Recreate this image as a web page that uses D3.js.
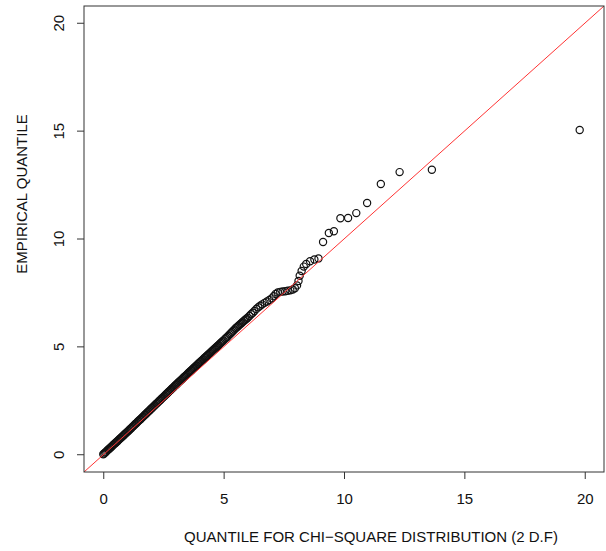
<!DOCTYPE html>
<html>
<head>
<meta charset="utf-8">
<script src="https://cdn.jsdelivr.net/npm/d3@7"></script>
<style>
  body { margin: 0; background: #fff; }
  svg { display: block; font-family: "Liberation Sans", Arial, sans-serif; }
</style>
</head>
<body>
<svg id="qq" width="606" height="551"></svg>
<script>
// theoretical chi-square (2 df) quantiles
const theoretical = [
  0.00, 0.04, 0.08, 0.12, 0.16, 0.20, 0.24, 0.28, 0.32, 0.36, 0.40, 0.44, 0.48, 0.52, 0.56, 0.60, 0.64, 0.68, 0.72, 0.76, 0.80, 0.84, 0.88, 0.92, 0.96,
  1.00, 1.04, 1.08, 1.12, 1.16, 1.20, 1.24, 1.28, 1.32, 1.36, 1.40, 1.44, 1.48, 1.52, 1.56, 1.60, 1.64, 1.68, 1.72, 1.76, 1.80, 1.84, 1.88, 1.92, 1.96,
  2.00, 2.04, 2.08, 2.12, 2.16, 2.20, 2.24, 2.28, 2.32, 2.36, 2.40, 2.44, 2.48, 2.52, 2.56, 2.60, 2.64, 2.68, 2.72, 2.76, 2.80, 2.84, 2.88, 2.92, 2.96,
  3.00, 3.04, 3.08, 3.12, 3.16, 3.20, 3.24, 3.28, 3.32, 3.36, 3.40, 3.44, 3.48, 3.52, 3.56, 3.60, 3.64, 3.68, 3.72, 3.76, 3.80, 3.84, 3.88, 3.92, 3.96,
  4.00, 4.04, 4.08, 4.12, 4.16, 4.20, 4.24, 4.28, 4.32, 4.36, 4.40, 4.44, 4.48, 4.52, 4.56, 4.60, 4.64, 4.68, 4.72, 4.76, 4.80, 4.84, 4.88, 4.92, 4.96,
  5.00, 5.05, 5.10, 5.15, 5.20, 5.25, 5.30, 5.35, 5.40, 5.45, 5.50, 5.55, 5.60, 5.65, 5.70, 5.75, 5.80, 5.85, 5.90, 5.95,
  6.00, 6.07, 6.14, 6.21, 6.28, 6.36, 6.44, 6.52, 6.60, 6.70, 6.80, 6.90, 7.00, 7.08, 7.16, 7.25, 7.35, 7.45, 7.56, 7.66,
  7.77, 7.87, 7.96, 8.05, 8.11, 8.16, 8.24, 8.33, 8.43, 8.59, 8.77, 8.94, 9.13, 9.37, 9.58, 9.85, 10.17, 10.51, 10.96, 11.53,
  12.31, 13.65, 19.79
];

// empirical quantiles
const empirical = [
  0.02, 0.06, 0.10, 0.14, 0.19, 0.23, 0.27, 0.31, 0.35, 0.39, 0.44, 0.48, 0.52, 0.56, 0.60, 0.64, 0.69, 0.73, 0.77, 0.81, 0.85, 0.89, 0.94, 0.98, 1.02,
  1.06, 1.10, 1.15, 1.19, 1.23, 1.28, 1.32, 1.36, 1.41, 1.45, 1.49, 1.54, 1.58, 1.62, 1.66, 1.71, 1.75, 1.79, 1.84, 1.88, 1.92, 1.97, 2.01, 2.05, 2.10,
  2.14, 2.18, 2.23, 2.27, 2.31, 2.36, 2.40, 2.44, 2.49, 2.53, 2.57, 2.62, 2.66, 2.70, 2.74, 2.79, 2.83, 2.87, 2.92, 2.96, 3.00, 3.05, 3.09, 3.13, 3.18,
  3.22, 3.26, 3.30, 3.35, 3.39, 3.43, 3.47, 3.51, 3.56, 3.60, 3.64, 3.68, 3.72, 3.77, 3.81, 3.85, 3.89, 3.93, 3.98, 4.02, 4.06, 4.10, 4.14, 4.19, 4.23,
  4.27, 4.31, 4.35, 4.39, 4.43, 4.48, 4.52, 4.56, 4.60, 4.64, 4.68, 4.72, 4.76, 4.81, 4.85, 4.89, 4.93, 4.97, 5.01, 5.05, 5.09, 5.14, 5.18, 5.22, 5.26,
  5.30, 5.36, 5.41, 5.46, 5.52, 5.58, 5.63, 5.69, 5.75, 5.80, 5.86, 5.91, 5.96, 6.01, 6.06, 6.11, 6.16, 6.21, 6.26, 6.30,
  6.35, 6.43, 6.51, 6.58, 6.66, 6.76, 6.84, 6.91, 6.97, 7.04, 7.10, 7.17, 7.25, 7.35, 7.45, 7.52, 7.55, 7.57, 7.58, 7.60,
  7.62, 7.66, 7.72, 7.85, 8.05, 8.30, 8.52, 8.72, 8.84, 8.97, 9.05, 9.10, 9.86, 10.28, 10.36, 10.96, 10.97, 11.20, 11.67, 12.55,
  13.10, 13.21, 15.05
];

const xTicks = [0, 5, 10, 15, 20];
const yTicks = [0, 5, 10, 15, 20];
const xLabel = "QUANTILE FOR CHI\u2212SQUARE DISTRIBUTION (2 D.F)";
const yLabel = "EMPIRICAL QUANTILE";

const svg = d3.select("#qq");
const plotL = 84, plotR = 604, plotT = 6, plotB = 472;
const fontPx = 15;

const x = d3.scaleLinear().domain([-0.8, 20.8]).range([plotL, plotR]);
const y = d3.scaleLinear().domain([-0.8, 20.8]).range([plotB, plotT]);

svg.append("defs").append("clipPath").attr("id", "plot-clip")
  .append("rect")
  .attr("x", plotL).attr("y", plotT)
  .attr("width", plotR - plotL).attr("height", plotB - plotT);

// points
const pts = theoretical.map((t, i) => ({ t, e: empirical[i] }));

svg.append("g")
  .attr("clip-path", "url(#plot-clip)")
  .selectAll("circle")
  .data(pts)
  .join("circle")
  .attr("cx", d => x(d.t))
  .attr("cy", d => y(d.e))
  .attr("r", 3.6)
  .attr("fill", "none")
  .attr("stroke", "#111")
  .attr("stroke-width", 1.2);

// reference line y = x
svg.append("line")
  .attr("clip-path", "url(#plot-clip)")
  .attr("x1", x(-0.8)).attr("y1", y(-0.8))
  .attr("x2", x(20.8)).attr("y2", y(20.8))
  .attr("stroke", "#ff3333")
  .attr("stroke-width", 1);

// box
svg.append("rect")
  .attr("x", plotL).attr("y", plotT)
  .attr("width", plotR - plotL).attr("height", plotB - plotT)
  .attr("fill", "none")
  .attr("stroke", "#333")
  .attr("stroke-width", 1);

// axes
const xAxis = d3.axisBottom(x).tickValues(xTicks).tickSize(7).tickPadding(14).tickFormat(d3.format("d"));
const gx = svg.append("g").attr("transform", `translate(0,${plotB})`).call(xAxis);
gx.select(".domain").remove();

const yAxis = d3.axisLeft(y).tickValues(yTicks).tickSize(7).tickFormat(d3.format("d"));
const gy = svg.append("g").attr("transform", `translate(${plotL},0)`).call(yAxis);
gy.select(".domain").remove();
gy.selectAll(".tick").attr("transform", null);
gy.selectAll(".tick line").attr("y1", d => y(d)).attr("y2", d => y(d));
gy.selectAll(".tick text")
  .attr("x", null).attr("dy", null).attr("y", null)
  .attr("transform", d => `translate(-20,${y(d)}) rotate(-90)`)
  .attr("text-anchor", "middle");

svg.selectAll(".tick line").attr("stroke", "#333");
svg.selectAll(".tick text")
  .attr("font-size", fontPx)
  .attr("font-family", "'Liberation Sans', Arial, sans-serif")
  .attr("fill", "#111");

// titles
svg.append("text")
  .attr("x", 371).attr("y", 542)
  .attr("text-anchor", "middle")
  .attr("font-size", fontPx)
  .attr("fill", "#111")
  .text(xLabel);

svg.append("text")
  .attr("transform", "translate(27,194) rotate(-90)")
  .attr("text-anchor", "middle")
  .attr("font-size", fontPx)
  .attr("fill", "#111")
  .text(yLabel);
</script>
</body>
</html>
